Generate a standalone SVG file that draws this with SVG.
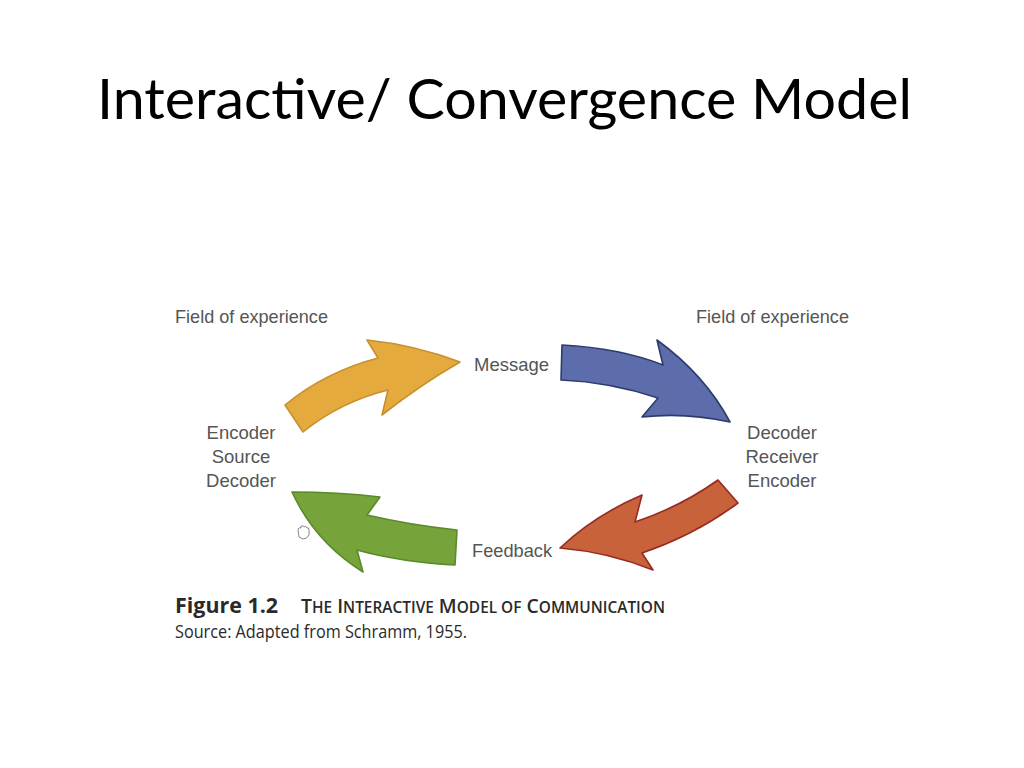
<svg xmlns="http://www.w3.org/2000/svg" width="1024" height="768" viewBox="0 0 1024 768">
<style>
.title{font-family:Lato,"Open Sans","Liberation Sans",sans-serif;font-size:56px;fill:#000}
.lbl{font-family:"Liberation Sans",Arial,sans-serif;font-size:18.5px;fill:#555}
.cap{font-family:"Open Sans","Liberation Sans",sans-serif;fill:#2a2a2a}
.arrow{stroke-width:1.6;stroke-linejoin:round}
</style>
<rect width="1024" height="768" fill="#fff"/>
<text class="title" x="97" y="119" textLength="815" lengthAdjust="spacingAndGlyphs">Interactive/ Convergence Model</text>
<g id="connectors">
<path id="arrow-message" class="arrow" fill="#E5AA3E" stroke="#C8902C" d="M285,405 Q325,372 378,358 L367,340 Q415,345 460,362 Q420,385 382,415 L388,390 Q340,402 303,432 Z"/>
<path id="arrow-decode" class="arrow" fill="#5D6DAB" stroke="#2C3C6C" d="M562,345 Q620,348 663,365 L657,340 Q705,375 730,422 Q685,412 642,417 L658,398 Q610,382 561,380 Z"/>
<path id="arrow-feedback" class="arrow" fill="#C7623A" stroke="#972A22" d="M718,480 Q680,507 635,522 L642,495 Q595,515 560,548 Q608,552 653,570 L642,553 Q695,535 738,503 Z"/>
<path id="arrow-return" class="arrow" fill="#76A43B" stroke="#5A8A2A" d="M292,492 Q338,492 380,497 L367,515 Q410,525 457,530 L455,565 Q400,562 357,550 L363,572 Q315,542 292,492 Z"/>
</g>
<g id="cursor" fill="none" stroke="#888" stroke-width="1">
<path d="M299,537 L298,529 Q299,527 301,528 L301,526 Q303,525 304,527 Q306,525 307,528 Q309,527 309,530 L309,535 Q307,539 303,539 Z"/>
</g>
<g id="field-left"><text class="lbl" x="175" y="323" textLength="153" lengthAdjust="spacingAndGlyphs">Field of experience</text></g>
<g id="field-right"><text class="lbl" x="696" y="323" textLength="153" lengthAdjust="spacingAndGlyphs">Field of experience</text></g>
<g id="message"><text class="lbl" x="474" y="371" textLength="75" lengthAdjust="spacingAndGlyphs">Message</text></g>
<g id="source" text-anchor="middle">
<text class="lbl" x="241" y="439">Encoder</text>
<text class="lbl" x="241" y="463">Source</text>
<text class="lbl" x="241" y="487">Decoder</text>
</g>
<g id="receiver" text-anchor="middle">
<text class="lbl" x="782" y="439">Decoder</text>
<text class="lbl" x="782" y="463">Receiver</text>
<text class="lbl" x="782" y="487">Encoder</text>
</g>
<g id="feedback"><text class="lbl" x="472" y="557" textLength="80" lengthAdjust="spacingAndGlyphs">Feedback</text></g>
<g id="caption">
<text class="cap" x="175" y="613" font-size="21" font-weight="bold" textLength="103" lengthAdjust="spacingAndGlyphs">Figure 1.2</text>
<text class="cap" x="301" y="613" font-size="19.5" font-weight="600" textLength="364" lengthAdjust="spacingAndGlyphs">T<tspan font-size="15.5">HE</tspan> I<tspan font-size="15.5">NTERACTIVE</tspan> M<tspan font-size="15.5">ODEL OF</tspan> C<tspan font-size="15.5">OMMUNICATION</tspan></text>
<text class="cap" x="175" y="638" font-size="18" textLength="292" lengthAdjust="spacingAndGlyphs">Source: Adapted from Schramm, 1955.</text>
</g>
</svg>
